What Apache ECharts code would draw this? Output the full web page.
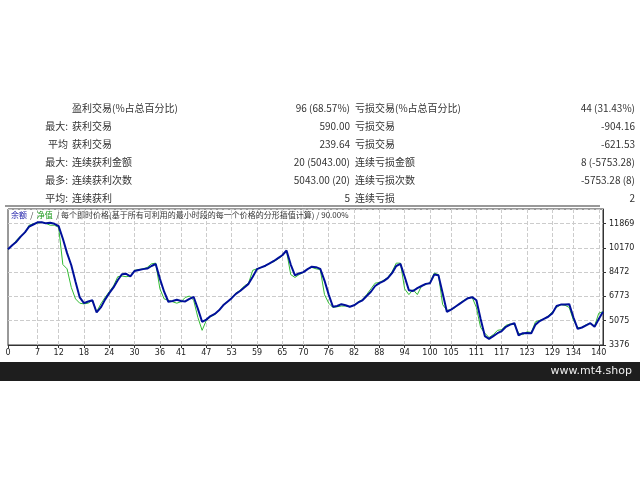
<!DOCTYPE html>
<html><head><meta charset="utf-8">
<script src="https://cdn.jsdelivr.net/npm/echarts@6/dist/echarts.min.js"></script>
<style>body{margin:0;background:#fff}#c{width:640px;height:480px}</style></head>
<body><div id="c"></div>
<script>
const xLabels=[0,7,12,18,24,30,36,41,47,53,59,65,70,76,82,88,94,100,105,111,117,123,129,134,140];
const yTicks=[3376,5075,6773,8472,10170,11869];
const balance=[10070,10350,10600,10950,11250,11650,11800,11950,11960,11880,11920,11850,11690,10800,9800,8950,7800,6700,6300,6420,6500,5650,6000,6550,7000,7400,7900,8320,8350,8180,8550,8620,8680,8720,8900,9040,8000,7100,6400,6450,6540,6450,6420,6600,6730,5900,5000,5150,5400,5550,5800,6150,6400,6650,6950,7150,7400,7650,8150,8680,8800,8920,9080,9250,9450,9650,9980,9000,8250,8380,8470,8680,8850,8820,8700,7880,6900,6050,6100,6230,6150,6050,6150,6350,6500,6800,7100,7500,7700,7840,8050,8400,8900,9050,8150,7200,7150,7350,7500,7650,7700,8300,8260,7000,5700,5850,6050,6250,6450,6650,6720,6500,5200,4000,3800,4000,4200,4350,4650,4800,4900,4050,4200,4220,4200,4800,5050,5200,5350,5600,6100,6200,6200,6230,5300,4500,4600,4750,4900,4650,5200,5700];
const equity=[10070,10300,10700,11000,11200,11750,11850,11900,11950,11880,11750,11750,11600,9000,8700,7400,6600,6300,6250,6300,6500,5700,6250,6700,7100,7500,8150,8200,8150,8200,8600,8650,8700,8800,9050,9100,7300,6600,6500,6400,6300,6400,6700,6800,6500,5300,4400,5100,5350,5500,5800,6200,6400,6700,7000,7200,7500,7700,8600,8700,8800,8900,9100,9200,9400,9600,9950,8300,8100,8300,8450,8700,8800,8700,8650,6900,6300,6000,6050,6100,6100,6050,6150,6400,6550,6900,7300,7700,7750,7900,8100,8500,9100,9100,7300,6900,7250,6900,7500,7600,7750,8400,8300,6200,5800,5850,6000,6300,6500,6650,6700,6000,4600,4200,3900,4100,4400,4450,4750,4850,4800,4200,4100,4300,4250,5000,5100,5200,5400,5700,6000,6200,6150,6000,5100,4600,4600,4800,4900,4700,5600,5700];
const rows=[
 ['', '盈利交易(%占总百分比)','96 (68.57%)','亏损交易(%占总百分比)','44 (31.43%)'],
 ['最大:','获利交易','590.00','亏损交易','-904.16'],
 ['平均','获利交易','239.64','亏损交易','-621.53'],
 ['最大:','连续获利金额','20 (5043.00)','连续亏损金额','8 (-5753.28)'],
 ['最多:','连续获利次数','5043.00 (20)','连续亏损次数','-5753.28 (8)'],
 ['平均:','连续获利','5','连续亏损','2']];
const cats=balance.map((_,i)=>String(i));
const F='"Noto Sans CJK SC","DejaVu Sans",sans-serif';
const g=[];
const rowY=[108,126,144,162,180,198];
rows.forEach((r,i)=>{
 const y=rowY[i];
 const st={fontSize:10,fill:'#333',fontFamily:F,textVerticalAlign:'middle'};
 g.push({type:'text',left:null,x:68,y:y,style:Object.assign({text:r[0],textAlign:'right'},st)});
 g.push({type:'text',x:72,y:y,style:Object.assign({text:r[1],textAlign:'left'},st)});
 g.push({type:'text',x:350,y:y,style:Object.assign({text:r[2],textAlign:'right'},st)});
 g.push({type:'text',x:355,y:y,style:Object.assign({text:r[3],textAlign:'left'},st)});
 g.push({type:'text',x:635,y:y,style:Object.assign({text:r[4],textAlign:'right'},st)});
});
g.push({type:'line',shape:{x1:5,y1:206,x2:600,y2:206},style:{stroke:'#333',lineWidth:1}});
g.push({type:'rect',shape:{x:0,y:362,width:640,height:19},style:{fill:'#1e1e1e'}});
g.push({type:'text',x:632,y:371,style:{text:'www.mt4.shop',fill:'#eee',fontSize:11,fontFamily:'DejaVu Sans',textAlign:'right',textVerticalAlign:'middle'}});
g.push({type:'text',x:11,y:215,z:10,style:{rich:{b:{fill:'#1a1aa8',fontSize:8,fontFamily:F},gr:{fill:'#1a9a1a',fontSize:8,fontFamily:F},t:{fill:'#333',fontSize:8,fontFamily:F}},
 text:'{b|余额} {t|/} {gr|净值} {t|/ 每个即时价格(基于所有可利用的最小时段的每一个价格的分形插值计算) / 90.00%}',textVerticalAlign:'middle'}});
const show=(i)=>xLabels.indexOf(i)>=0;
const chart=echarts.init(document.getElementById('c'));
chart.setOption({
 animation:false,
 grid:{left:8,right:37,top:209,bottom:135,show:true,borderColor:'#333',borderWidth:1},
 xAxis:{type:'category',data:cats,boundaryGap:false,
  axisLine:{lineStyle:{color:'#333'}},axisTick:{show:true,interval:(i)=>show(i),length:3,lineStyle:{color:'#333'}},
  axisLabel:{interval:(i)=>show(i),fontSize:8,color:'#222',margin:4,fontFamily:'DejaVu Sans'},
  splitLine:{show:true,interval:(i)=>show(i)&&i>0,lineStyle:{type:'dashed',color:'#ccc'}}},
 yAxis:{type:'value',position:'right',min:3376,max:12884,interval:1698.6,
  axisLine:{show:true,lineStyle:{color:'#333'}},axisTick:{show:true,length:3},
  axisLabel:{fontSize:8,color:'#222',margin:6,showMaxLabel:false,fontFamily:'DejaVu Sans',formatter:(v)=>{let r=Math.round(v);let b=yTicks.reduce((a,c)=>Math.abs(c-r)<Math.abs(a-r)?c:a);return Math.abs(b-r)<3?String(b):'';}},
  splitLine:{lineStyle:{type:'dashed',color:'#ccc'}}},
 series:[
  {type:'line',data:equity,symbol:'none',lineStyle:{color:'#33bb33',width:1},z:2},
  {type:'line',data:balance,symbol:'none',lineStyle:{color:'#00109a',width:2},z:3}],
 graphic:g
});
</script></body></html>
